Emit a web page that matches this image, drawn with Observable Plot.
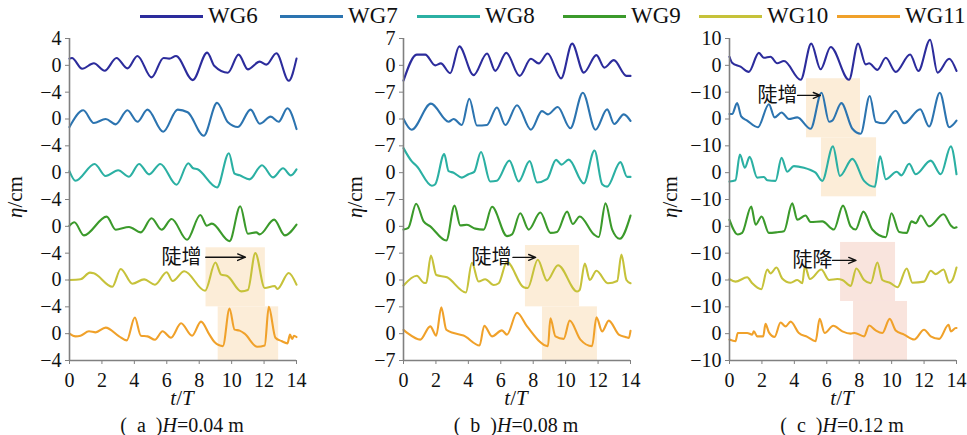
<!DOCTYPE html>
<html><head><meta charset="utf-8">
<script src="https://cdn.jsdelivr.net/npm/d3@7"></script>
<script src="https://cdn.jsdelivr.net/npm/@observablehq/plot@0.6"></script>
<style>
body{margin:0;background:#fff;}
#root{position:relative;width:967px;height:435px;overflow:hidden;font-family:"Liberation Serif",serif;color:#111;background:#fff;}
.panel{position:absolute;top:24px;}
.lg{position:absolute;top:3px;height:26px;display:flex;align-items:center;font-size:23px;white-space:nowrap;font-family:"Liberation Serif",serif;}
.sw{width:63px;height:3px;margin-right:5px;}
.ylab{position:absolute;transform:translate(-50%,-50%) rotate(-90deg);font-size:21px;white-space:nowrap;}
.xlab{position:absolute;transform:translate(-50%,-50%);font-size:21px;white-space:nowrap;}
.cap{position:absolute;transform:translate(-50%,-50%);font-size:20px;white-space:nowrap;}
</style></head>
<body><div id="root"></div>
<script>
const seriesNames = ["WG6","WG7","WG8","WG9","WG10","WG11"];
const seriesColors = ["#2c2c9c","#2c74b0","#2bb0a3","#3b9a2b","#c6c23a","#f0a12a"];
const xTicks = [0,2,4,6,8,10,12,14];

// Panel (a) H=0.04 m : [t/T, eta cm]
const A_WG6 = [[0,1.0],[0.15,1.1],[0.78,-0.5],[1.5,0.3],[2.17,-0.8],[2.9,1.1],[3.57,-0.45],[4.19,1.4],[5.06,-1.8],[5.8,1.1],[6.15,1.0],[6.57,1.4],[7.6,-2.2],[8.49,1.9],[8.94,-0.1],[9.77,-1.1],[10.43,1.6],[11.0,-0.6],[11.73,0.55],[12.14,0.1],[12.76,1.8],[13.52,-2.3],[14,1.0]];
const A_WG7 = [[0,-1.2],[0.85,1.3],[1.5,-0.6],[2.23,0],[2.85,-0.8],[3.57,1.3],[4.19,-0.4],[4.81,1.4],[5.78,-1.9],[6.67,1.4],[7.29,1.0],[8.28,-2.5],[9.1,2.4],[9.77,-0.5],[10.39,-1.2],[11.17,1.4],[11.73,-0.7],[12.41,0.35],[12.9,-0.4],[13.44,1.6],[14,-1.5]];
const A_WG8 = [[0,0.2],[0.37,-1.2],[1.55,1.3],[2.23,-0.5],[3.0,0.35],[3.67,-0.6],[4.29,1.3],[4.91,-0.25],[5.6,1.3],[6.6,-1.8],[7.33,1.4],[7.6,0.7],[7.9,0.5],[9.1,-2.2],[9.83,2.9],[10.18,-0.15],[10.5,-0.4],[11.1,-1.0],[11.87,1.1],[12.55,-0.7],[13.17,0.65],[13.65,-0.4],[14,0.5]];
const A_WG9 = [[0,0.1],[0.3,0.6],[0.89,-1.35],[2.29,1.45],[2.85,-0.5],[3.67,-0.1],[4.4,-0.9],[5.06,1.2],[5.68,-0.5],[6.3,1.1],[7.25,-2.0],[8.07,1.7],[8.47,0.1],[8.78,0.4],[9.87,-2.2],[10.53,3.0],[11.0,-1.1],[11.52,-0.9],[11.73,-1.2],[12.62,1.0],[13.28,-1.35],[14,0.25]];
const A_WG10 = [[0,0],[0.68,0.1],[1.26,1.1],[1.5,1.0],[2.64,-1.0],[3.16,1.65],[3.88,-0.55],[4.6,0.1],[5.27,-0.7],[5.99,1.15],[6.36,-0.15],[7.08,1.3],[8.36,-1.6],[9.0,2.6],[9.35,0.8],[9.73,0.6],[10.6,-1.7],[11.0,-1.5],[11.46,4.0],[12.04,-1.2],[12.66,-0.9],[12.82,-1.35],[13.52,1.05],[14,-0.7]];
const A_WG11 = [[0,0],[0.37,-0.4],[0.68,-0.3],[1.2,0.35],[1.61,0.2],[2.23,0.9],[3.06,-0.4],[3.53,-1.0],[4.03,2.4],[4.4,-0.3],[4.81,-0.4],[5.27,-0.9],[5.74,0.35],[6.26,-0.6],[6.88,1.55],[7.56,-0.3],[8.11,1.8],[8.63,-0.15],[8.94,-1.25],[9.46,-1.85],[9.87,3.75],[10.18,0.6],[10.49,0.45],[10.8,0],[11.58,-1.95],[12.04,-1.75],[12.29,4.0],[12.7,-0.6],[13.07,-1.1],[13.44,-1.45],[13.6,-0.15],[13.73,-0.8],[13.85,-0.3],[14,-0.5]];

// Panel (b) H=0.08 m
const B_WG6 = [[0,-4.0],[0.82,2.8],[1.34,2.8],[1.96,0],[2.3,0.5],[2.88,-2.05],[3.44,4.95],[4.32,-2.55],[5.15,3.1],[5.66,-1.45],[6.34,3.25],[7.16,-2.75],[7.86,1.7],[8.34,0.5],[8.89,3.1],[9.72,-3.4],[10.4,5.65],[11.12,-1.9],[11.9,2.65],[12.39,-0.6],[12.97,1.35],[13.75,-2.75],[14,-2.75]];
const B_WG7 = [[0,0],[0.5,-2.8],[1.69,4.0],[2.78,-0.7],[3.09,0],[3.6,-1.55],[4.06,5.3],[4.53,-1.7],[5.15,-1.55],[5.76,3.0],[6.28,-1.55],[7.0,3.6],[7.86,-2.8],[8.54,2.05],[8.91,1.2],[9.51,3.15],[10.29,-2.4],[11.06,6.85],[11.84,-2.8],[12.56,2.5],[13.0,-1.3],[13.59,1.2],[14,-0.5]];
const B_WG8 = [[0,6.4],[0.5,3.0],[0.82,1.7],[1.75,-3.4],[1.96,-3.0],[2.51,4.85],[2.78,0.4],[3.09,0],[3.6,-1.3],[4.01,-0.4],[4.36,0.2],[4.78,5.4],[5.35,-2.3],[5.76,-2.1],[6.53,3.15],[7.1,-2.3],[7.78,3.0],[8.24,-2.55],[8.85,-1.7],[9.41,3.35],[9.74,2.1],[10.19,3.4],[11.12,-2.8],[11.78,5.8],[12.25,-3.0],[12.56,-3.65],[13.38,2.75],[13.79,-1.1],[14,-1.1]];
const B_WG9 = [[0,-0.85],[0.3,-0.4],[0.78,5.9],[1.24,1.3],[1.65,0],[2.64,-3.7],[3.15,5.4],[3.5,0.25],[3.91,0.4],[4.43,-0.6],[4.94,-0.85],[5.46,5.1],[6.38,-2.55],[6.69,-2.1],[7.2,3.4],[7.72,-0.85],[8.44,3.6],[9.06,-1.7],[9.47,-1.45],[10.09,3.85],[10.44,0.6],[10.87,2.55],[11.74,-2.1],[12.04,-2.8],[12.46,6.0],[12.87,-0.85],[13.34,-3.25],[14,2.8]];
const B_WG10 = [[0,-1.45],[0.82,1.1],[1.24,-0.7],[1.4,-0.8],[1.69,6.4],[2.02,1.3],[2.68,0.7],[3.85,-3.25],[4.22,4.5],[4.63,-0.4],[5.04,0.2],[5.56,-1.3],[5.87,-0.85],[6.38,4.7],[7.41,-1.9],[7.66,-2.1],[8.28,5.3],[8.85,-0.15],[9.53,3.85],[10.71,-3.0],[10.87,-2.55],[11.18,4.3],[11.49,0],[11.9,2.4],[12.6,-0.85],[13.18,-0.25],[13.44,6.65],[13.75,0],[14,-0.85]];
const B_WG11 = [[0,1.0],[0.25,0.15],[1.03,-1.55],[1.65,1.9],[2.02,-0.5],[2.33,6.85],[2.64,1.0],[3.09,0.15],[3.7,-0.5],[4.69,-3.1],[4.98,2.05],[5.46,-0.7],[6.07,0.85],[6.38,-0.25],[7.0,5.45],[7.62,1.9],[8.91,-3.25],[9.06,4.0],[9.37,-0.7],[9.88,-1.35],[10.25,3.4],[10.91,-1.55],[11.63,-3.25],[11.9,4.25],[12.25,0.6],[12.66,3.4],[13.28,-0.25],[13.69,-0.85],[13.9,-1.1],[14,0.75]];

// Panel (c) H=0.12 m
const C_WG6 = [[0,3.2],[0.16,1.0],[0.68,-0.5],[1.19,-2.45],[1.81,4.65],[2.12,2.8],[2.53,3.2],[2.94,0.75],[3.36,1.6],[4.39,-5.4],[5.04,8.1],[5.62,-1.45],[6.24,6.85],[7.37,-5.4],[7.93,8.1],[8.4,0.35],[8.61,0.75],[9.12,-1.7],[9.64,2.8],[10.25,-2.45],[11.14,4.05],[11.65,-2.1],[12.37,9.55],[12.83,-2.7],[13.55,2.45],[14,-2.1]];
const C_WG7 = [[0,1.85],[0.16,1.85],[0.47,5.9],[0.72,1.0],[1.09,-0.6],[1.75,-3.05],[2.43,5.5],[2.78,0.6],[3.21,2.45],[3.66,0],[4.18,0.6],[5.0,-3.65],[5.68,9.8],[6.14,-1.0],[6.34,-0.6],[6.9,5.9],[7.58,-3.65],[8.09,-5.5],[8.65,8.55],[9.02,-1.0],[9.53,-1.6],[10.25,3.05],[10.77,-1.6],[11.76,3.65],[12.31,-2.8],[12.97,9.8],[13.55,-3.05],[14,-0.6]];
const C_WG8 = [[0,-3.3],[0.37,-2.8],[0.64,6.75],[0.95,1.85],[1.24,5.9],[1.71,-1.85],[2.12,-1.6],[2.33,-2.8],[2.84,-3.05],[3.21,5.5],[3.56,0.35],[3.97,2.45],[4.59,1.85],[5.0,1.0],[5.31,0],[5.72,-3.05],[6.38,9.8],[6.81,-1.2],[7.58,5.15],[8.3,-3.05],[8.96,-5.25],[9.29,6.1],[9.64,-2.45],[10.31,0.35],[10.6,-1.0],[11.08,3.3],[11.49,-0.6],[12.41,4.5],[13.03,-0.6],[13.65,9.8],[14,-0.6]];
const C_WG9 = [[0,2.45],[0.51,-3.05],[0.78,-2.45],[1.34,7.35],[1.61,0.6],[1.98,3.65],[2.43,-2.45],[2.94,-2.2],[3.36,-1.85],[3.87,8.55],[4.18,2.45],[4.69,4.05],[5.0,1.6],[5.72,1.85],[6.44,-1.2],[7.0,7.7],[7.47,0],[7.78,-1.2],[8.26,5.5],[8.81,-1.2],[9.64,-4.05],[9.99,4.9],[10.46,-2.1],[10.93,-2.45],[11.22,1.85],[11.49,1.2],[11.8,4.05],[12.31,0],[13.2,4.5],[13.65,0.35],[13.86,-0.6],[14,-0.35]];
const C_WG10 = [[0,0.35],[0.37,-0.6],[1.09,1.0],[1.4,-1.2],[1.96,-3.45],[2.33,3.9],[2.53,2.45],[2.9,4.65],[3.25,0.6],[3.77,-1.0],[4.18,0],[4.49,-1.2],[4.65,5.15],[4.96,0.35],[5.66,3.9],[6.14,0],[6.65,0.35],[6.96,0],[7.47,-2.2],[7.82,4.3],[8.3,0],[8.71,-1.2],[9.12,6.5],[9.43,0],[9.94,-1.2],[10.36,-2.7],[10.93,4.3],[11.28,-1.0],[12.0,-0.6],[12.41,3.45],[12.72,2.2],[13.2,3.9],[13.55,-1.0],[13.75,0],[14,4.65]];
const C_WG11 = [[0,-2.2],[0.37,-2.8],[0.51,0.25],[1.09,0.25],[1.4,-0.35],[1.5,0.85],[1.71,-1.0],[2.08,-1.0],[2.22,3.65],[2.43,0.5],[2.78,-1.2],[3.15,4.15],[3.46,2.7],[3.77,4.5],[4.28,0.25],[4.8,-1.2],[5.31,-2.8],[5.56,5.5],[5.87,0.25],[6.4,2.95],[6.96,0.85],[7.47,0],[7.72,0.25],[8.3,-1.0],[8.61,3.05],[9.02,1.2],[9.43,0.25],[9.88,5.5],[10.25,1.2],[10.77,-0.35],[11.39,-2.2],[12.0,1.45],[12.41,-1.0],[12.93,-1.95],[13.51,3.3],[13.65,0.85],[13.96,2.1],[14,2.1]];

// stacked y ticks (bottom to top) and their printed labels
const yTicksA = [-4,0,4,8,12,16,20,24,28,32,36,40,44];
const yLabelsA = ["−4","0","−4","0","−4","0","−4","0","−4","0","−4","0","4"];
const yTicksB = [-7,0,7,14,21,28,35,42,49,56,63,70,77];
const yLabelsB = ["−7","0","−7","0","−7","0","−7","0","−7","0","−7","0","7"];
const yTicksC = [-10,0,10,20,30,40,50,60,70,80,90,100,110];
const yLabelsC = ["−10","0","−10","0","−10","0","−10","0","−10","0","−10","0","10"];

// highlighted windows: [t start, t end, y low, y high (stacked units), kind]
const boxesA = [[8.42,12.08,4,12.8,"rise"],[9.17,12.9,-4,4,"rise"]];
const boxesB = [[7.52,10.86,7,23,"rise"],[8.57,11.96,-7,7,"rise"]];
const boxesC = [[4.75,8.08,73,95,"rise"],[5.67,9.07,51,73,"rise"],[6.85,10.24,12,34,"fall"],[7.65,10.98,-10,12,"fall"]];

// annotations: label, text centre (t, y), arrow from t to t
const notesA = [{label:"陡增", t:6.9, y:11.4, from:8.4, to:10.85}];
const notesB = [{label:"陡增", t:5.43, y:19.9, from:6.75, to:8.15}];
const notesC = [{label:"陡增", t:2.96, y:88.8, from:4.2, to:5.6},{label:"陡降", t:5.12, y:27.3, from:6.35, to:7.8}];

const panels = [
  {left:0, step:8, ticks:yTicksA, labels:yLabelsA, data:[A_WG6,A_WG7,A_WG8,A_WG9,A_WG10,A_WG11], boxes:boxesA, notes:notesA, ylabX:15, cap:"(&ensp;a&ensp;)<i>H</i>=0.04 m"},
  {left:334, step:14, ticks:yTicksB, labels:yLabelsB, data:[B_WG6,B_WG7,B_WG8,B_WG9,B_WG10,B_WG11], boxes:boxesB, notes:notesB, ylabX:355, cap:"(&ensp;b&ensp;)<i>H</i>=0.08 m"},
  {left:660, step:20, ticks:yTicksC, labels:yLabelsC, data:[C_WG6,C_WG7,C_WG8,C_WG9,C_WG10,C_WG11], boxes:boxesC, notes:notesC, ylabX:670, cap:"(&ensp;c&ensp;)<i>H</i>=0.12 m"}
];

const root = document.getElementById("root");

// legend
const legendLeft = [140,280,417,563,699,837];
seriesNames.forEach((n,i) => {
  const d = document.createElement("div");
  d.className = "lg";
  d.style.left = legendLeft[i] + "px";
  d.innerHTML = `<span class="sw" style="background:${seriesColors[i]}"></span><span>${n}</span>`;
  root.appendChild(d);
});

panels.forEach(p => {
  const rows = [];
  seriesNames.forEach((name, i) => {
    const off = (seriesNames.length - 1 - i) * p.step;
    p.data[i].forEach(([t, v]) => rows.push({name, t, y: v + off}));
  });
  const yMin = p.ticks[0], yMax = p.ticks[p.ticks.length - 1];
  const lab = d => p.labels[p.ticks.indexOf(d)];
  const chart = Plot.plot({
    width: 306, height: 372,
    marginLeft: 69, marginRight: 10, marginTop: 14, marginBottom: 36,
    style: "font-family:'Liberation Serif',serif;font-size:20px;color:#111;background:transparent;overflow:visible;",
    x: {domain: [0, 14]},
    y: {domain: [yMin, yMax]},
    color: {domain: seriesNames, range: seriesColors},
    marks: [
      Plot.rect(p.boxes.filter(b => b[4] === "rise"), {x1: b => b[0], x2: b => b[1], y1: b => b[2], y2: b => b[3], fill: "#fcedd8"}),
      Plot.rect(p.boxes.filter(b => b[4] === "fall"), {x1: b => b[0], x2: b => b[1], y1: b => b[2], y2: b => b[3], fill: "#f9e4dd"}),
      Plot.line(rows, {x: "t", y: "y", z: "name", stroke: "name", strokeWidth: 2.1, curve: "monotone-x"}),
      Plot.ruleX([0], {stroke: "#808080", strokeWidth: 1.6}),
      Plot.ruleY([yMin], {stroke: "#808080", strokeWidth: 1.6}),
      Plot.axisY({ticks: p.ticks, tickFormat: lab, tickSize: 4, tickPadding: 4, stroke: "#808080", label: null}),
      Plot.axisX({ticks: xTicks, tickFormat: d => String(d), tickSize: 4, tickPadding: 8, stroke: "#808080", label: null}),
      Plot.arrow(p.notes, {x1: "from", x2: "to", y1: "y", y2: "y", stroke: "#111", strokeWidth: 1.4, headLength: 9, headAngle: 45}),
      Plot.text(p.notes, {x: "t", y: "y", text: "label", fontFamily: "'Noto Sans CJK SC'", fontSize: 20, fill: "#111"})
    ]
  });
  const wrap = document.createElement("div");
  wrap.className = "panel";
  wrap.style.left = p.left + "px";
  wrap.appendChild(chart);
  root.appendChild(wrap);

  const yl = document.createElement("div");
  yl.className = "ylab";
  yl.style.left = p.ylabX + "px"; yl.style.top = "197px";
  yl.innerHTML = "<i>η</i>/cm";
  root.appendChild(yl);

  const cx = p.left + 69 + 113;
  const xl = document.createElement("div");
  xl.className = "xlab";
  xl.style.left = cx + "px"; xl.style.top = "398px";
  xl.innerHTML = "<i>t</i>/<i>T</i>";
  root.appendChild(xl);

  const cp = document.createElement("div");
  cp.className = "cap";
  cp.style.left = cx + "px"; cp.style.top = "425px";
  cp.innerHTML = p.cap;
  root.appendChild(cp);
});
</script>
</body></html>
